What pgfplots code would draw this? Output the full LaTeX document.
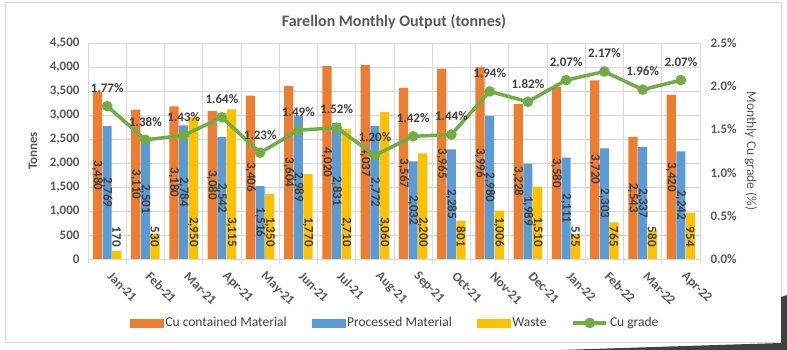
\documentclass[border=0pt]{standalone}
\usepackage{pgfplots}
\pgfplotsset{compat=1.18}
\usepackage{pgfplotstable}
\usepackage{fontspec}
\setmainfont{Carlito}
\definecolor{cuC}{HTML}{ED7D31}
\definecolor{prC}{HTML}{5B9BD5}
\definecolor{waC}{HTML}{FFC000}
\definecolor{grC}{HTML}{70AD47}
\definecolor{txt}{HTML}{595959}
\definecolor{lbl}{HTML}{404040}
\definecolor{gridc}{HTML}{D9D9D9}
\pgfplotstableread{
x cu proc waste grade
0 3480 2769 170 1.77
1 3110 2501 530 1.38
2 3180 2784 2950 1.43
3 3080 2542 3115 1.64
4 3406 1516 1350 1.23
5 3604 2989 1770 1.49
6 4020 2831 2710 1.52
7 4037 2772 3060 1.20
8 3567 2032 2200 1.42
9 3965 2285 801 1.44
10 3996 2980 1006 1.94
11 3228 1989 1510 1.82
12 3580 2111 525 2.07
13 3720 2303 765 2.17
14 2543 2337 580 1.96
15 3420 2242 954 2.07
}\data
\begin{document}
\begin{tikzpicture}
\useasboundingbox (0,0) rectangle (787pt,350pt);
\fill[white] (0,0) rectangle (787pt,350pt);
\draw[gridc, line width=1pt] (5pt,7pt) rectangle (781pt,347pt);
\fill[black!75] (560pt,0pt) -- (781pt,7pt) -- (781pt,53pt) -- (787pt,55pt) -- (787pt,0pt) -- cycle;
\node[font=\fontsize{16}{18}\selectfont\bfseries, text=txt] at (394pt,328pt) {Farellon Monthly Output (tonnes)};
\begin{axis}[
  at={(88pt,91pt)}, anchor=south west,
  width=612pt, height=216pt, scale only axis,
  xmin=-0.5, xmax=15.5, ymin=0, ymax=4500,
  ytick={0,500,...,4500},
  xtick={0,...,15},
  xticklabels={Jan-21,Feb-21,Mar-21,Apr-21,May-21,Jun-21,Jul-21,Aug-21,Sep-21,Oct-21,Nov-21,Dec-21,Jan-22,Feb-22,Mar-22,Apr-22},
  minor xtick={-0.5,0.5,...,15.5},
  xminorgrids, ymajorgrids,
  grid style={draw=gridc, line width=0.8pt},
  minor grid style={draw=gridc, line width=0.8pt},
  axis line style={draw=none},
  major tick length=0pt, minor tick length=5pt, tick align=outside,
  xtick pos=bottom, ytick pos=left,
  minor tick style={draw=gridc, line width=0.8pt},
  /pgf/number format/assume math mode=true,
  /pgf/number format/1000 sep={,},
  tick label style={font=\fontsize{13}{15}\selectfont\bfseries, text=txt},
  yticklabel style={xshift=-5pt},
  xticklabel style={rotate=-45, anchor=west, xshift=9.5pt, yshift=-9pt},
  ylabel={Tonnes},
  ylabel style={at={(axis description cs:-0.09,0.5)}, anchor=center, font=\fontsize{13}{15}\selectfont\bfseries, text=txt},
  nodes near coords style={font=\fontsize{13}{15}\selectfont\bfseries, text=lbl, rotate=-90, inner sep=1pt},
]
\addplot[ybar, bar width=0.24, bar shift=-0.25, fill=cuC, draw=none] table[x=x, y=cu] {\data};
\addplot[ybar, bar width=0.24, bar shift=0, fill=prC, draw=none] table[x=x, y=proc] {\data};
\addplot[ybar, bar width=0.24, bar shift=0.25, fill=waC, draw=none] table[x=x, y=waste] {\data};
\addplot[draw=none, mark=none, forget plot, nodes near coords, point meta=explicit,
  every node near coord/.append style={anchor=center}]
  table[x expr=\thisrow{x}-0.25, y expr=\thisrow{cu}/2, meta=cu] {\data};
\addplot[draw=none, mark=none, forget plot, nodes near coords, point meta=explicit,
  every node near coord/.append style={anchor=center}]
  table[x expr=\thisrow{x}, y expr=\thisrow{proc}/2, meta=proc] {\data};
\addplot[draw=none, mark=none, forget plot, nodes near coords, point meta=explicit,
  every node near coord/.append style={anchor=east}]
  table[x expr=\thisrow{x}+0.25, y expr=230, meta=waste] {\data};
\end{axis}
\begin{axis}[
  at={(88pt,91pt)}, anchor=south west,
  width=612pt, height=216pt, scale only axis,
  xmin=-0.5, xmax=15.5, ymin=0, ymax=2.5,
  axis x line=none, axis y line*=right,
  axis line style={draw=none},
  major tick length=0pt,
  ytick={0,0.5,...,2.5},
  /pgf/number format/assume math mode=true,
  yticklabel={\pgfmathprintnumber[fixed,fixed zerofill,precision=1]{\tick}\%},
  yticklabel style={font=\fontsize{13}{15}\selectfont\bfseries, text=txt, xshift=7pt},
  ylabel={Monthly Cu grade (\%)},
  ylabel style={at={(axis description cs:1.083,0.5)}, anchor=center, rotate=180, font=\fontsize{13.5}{15}\selectfont, text=txt},
  legend style={at={(0.502,-0.296)}, anchor=center, draw=none, fill=none,
    legend columns=4, font=\fontsize{13.5}{15}\selectfont, text=lbl,
    /tikz/every even column/.append style={column sep=23pt}},
  legend cell align=left,
]
\addlegendimage{legend image code/.code={\fill[cuC] (0pt,-4pt) rectangle (33pt,4pt);}}
\addlegendentry{Cu contained Material}
\addlegendimage{legend image code/.code={\fill[prC] (0pt,-4pt) rectangle (33pt,4pt);}}
\addlegendentry{Processed Material}
\addlegendimage{legend image code/.code={\fill[waC] (0pt,-4pt) rectangle (33pt,4pt);}}
\addlegendentry{Waste}
\addplot[grC, line width=3.5pt, mark=*, mark size=5pt, mark options={fill=grC, draw=grC, line width=0.5pt},
  legend image code/.code={\draw[grC, line width=3.5pt] (0pt,0pt) -- (33pt,0pt); \fill[grC] (16.5pt,0pt) circle (3.5pt);},
  nodes near coords={\pgfmathprintnumber[fixed,fixed zerofill,precision=2]{\pgfplotspointmeta}\%},
  point meta=y,
  every node near coord/.append style={font=\fontsize{13}{15}\selectfont\bfseries, text=lbl, anchor=south, yshift=10pt}]
  table[x=x, y=grade] {\data};
\addlegendentry{Cu grade}
\end{axis}
\end{tikzpicture}
\end{document}
